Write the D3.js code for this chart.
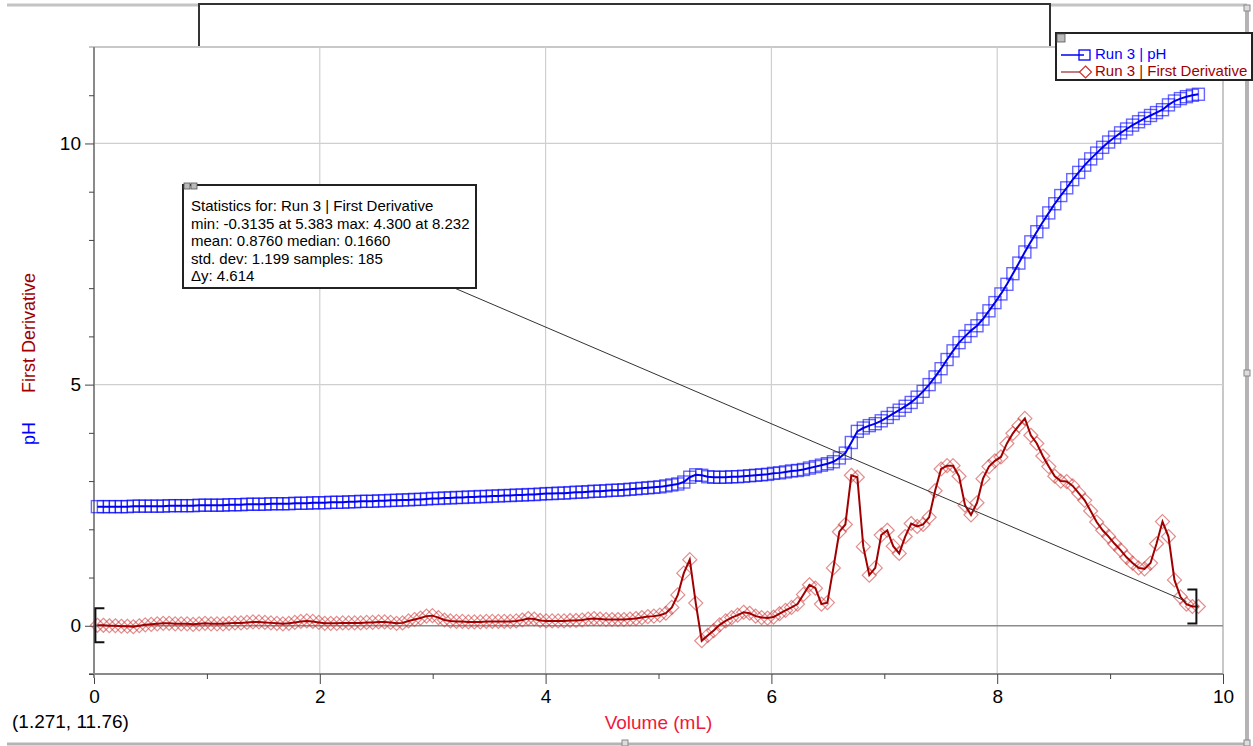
<!DOCTYPE html>
<html>
<head>
<meta charset="utf-8">
<script src="https://cdn.jsdelivr.net/npm/d3@7"></script>
<style>
	body { margin: 0; background: #fff; }
	svg { display: block; font-family: Arial, "Liberation Sans", sans-serif; }
</style>
</head>
<body>
<svg id="chart" width="1253" height="746"></svg>
<script>
// Run 3 titration data (Volume in mL)
const volume = [
	0.030, 0.083, 0.136, 0.189, 0.242, 0.295, 0.348, 0.401, 0.454, 0.507,
	0.560, 0.613, 0.666, 0.719, 0.772, 0.825, 0.878, 0.931, 0.984, 1.037,
	1.090, 1.143, 1.196, 1.249, 1.302, 1.355, 1.408, 1.461, 1.514, 1.567,
	1.620, 1.673, 1.726, 1.779, 1.832, 1.885, 1.938, 1.991, 2.044, 2.097,
	2.150, 2.203, 2.256, 2.309, 2.362, 2.415, 2.468, 2.521, 2.574, 2.627,
	2.680, 2.733, 2.786, 2.839, 2.892, 2.945, 2.998, 3.051, 3.104, 3.157,
	3.210, 3.263, 3.316, 3.369, 3.422, 3.475, 3.528, 3.581, 3.634, 3.687,
	3.740, 3.793, 3.846, 3.899, 3.952, 4.005, 4.058, 4.111, 4.164, 4.217,
	4.270, 4.323, 4.376, 4.429, 4.482, 4.535, 4.588, 4.641, 4.694, 4.747,
	4.800, 4.853, 4.906, 4.959, 5.012, 5.065, 5.118, 5.171, 5.224, 5.277,
	5.330, 5.383, 5.436, 5.489, 5.542, 5.595, 5.648, 5.701, 5.754, 5.807,
	5.860, 5.913, 5.966, 6.019, 6.072, 6.125, 6.178, 6.231, 6.284, 6.337,
	6.390, 6.443, 6.496, 6.549, 6.602, 6.655, 6.708, 6.761, 6.814, 6.867,
	6.920, 6.973, 7.026, 7.079, 7.132, 7.185, 7.238, 7.291, 7.344, 7.397,
	7.450, 7.503, 7.556, 7.609, 7.662, 7.715, 7.768, 7.821, 7.874, 7.927,
	7.980, 8.033, 8.086, 8.139, 8.192, 8.245, 8.298, 8.351, 8.404, 8.457,
	8.510, 8.563, 8.616, 8.669, 8.722, 8.775, 8.828, 8.881, 8.934, 8.987,
	9.040, 9.093, 9.146, 9.199, 9.252, 9.305, 9.358, 9.411, 9.464, 9.517,
	9.570, 9.623, 9.676, 9.729, 9.782
];

const pH = [
	2.47, 2.47, 2.47, 2.47, 2.47, 2.47, 2.48, 2.48, 2.48, 2.48,
	2.48, 2.48, 2.49, 2.49, 2.49, 2.49, 2.49, 2.50, 2.50, 2.50,
	2.50, 2.50, 2.51, 2.51, 2.51, 2.52, 2.52, 2.52, 2.52, 2.53,
	2.53, 2.53, 2.53, 2.54, 2.54, 2.54, 2.55, 2.55, 2.55, 2.56,
	2.56, 2.56, 2.57, 2.57, 2.58, 2.58, 2.58, 2.59, 2.59, 2.60,
	2.60, 2.61, 2.61, 2.62, 2.62, 2.63, 2.64, 2.64, 2.65, 2.65,
	2.66, 2.66, 2.67, 2.67, 2.68, 2.68, 2.69, 2.69, 2.70, 2.70,
	2.71, 2.71, 2.72, 2.72, 2.73, 2.74, 2.74, 2.75, 2.75, 2.76,
	2.77, 2.77, 2.78, 2.79, 2.79, 2.80, 2.81, 2.81, 2.82, 2.83,
	2.84, 2.85, 2.86, 2.87, 2.88, 2.90, 2.92, 2.94, 2.98, 3.08,
	3.13, 3.12, 3.09, 3.08, 3.08, 3.08, 3.09, 3.09, 3.10, 3.11,
	3.12, 3.13, 3.14, 3.16, 3.17, 3.19, 3.21, 3.22, 3.24, 3.27,
	3.30, 3.33, 3.36, 3.40, 3.48, 3.58, 3.80, 4.03, 4.10, 4.15,
	4.19, 4.25, 4.32, 4.40, 4.47, 4.55, 4.63, 4.74, 4.86, 5.00,
	5.16, 5.33, 5.52, 5.70, 5.87, 6.00, 6.12, 6.22, 6.36, 6.53,
	6.70, 6.88, 7.08, 7.30, 7.52, 7.75, 7.96, 8.17, 8.37, 8.56,
	8.75, 8.92, 9.08, 9.25, 9.40, 9.55, 9.68, 9.80, 9.92, 10.03,
	10.13, 10.22, 10.30, 10.38, 10.45, 10.52, 10.58, 10.64, 10.70, 10.80,
	10.88, 10.93, 10.97, 11.00, 11.02
];

const firstDerivative = [
	0.01, 0.01, 0.00, 0.00, -0.01, -0.01, -0.02, 0.00, 0.02, 0.03,
	0.04, 0.05, 0.05, 0.04, 0.04, 0.04, 0.03, 0.04, 0.05, 0.04,
	0.04, 0.04, 0.05, 0.06, 0.06, 0.07, 0.08, 0.08, 0.07, 0.06,
	0.05, 0.04, 0.05, 0.07, 0.09, 0.10, 0.09, 0.07, 0.05, 0.05,
	0.05, 0.06, 0.06, 0.06, 0.06, 0.07, 0.07, 0.08, 0.08, 0.07,
	0.05, 0.06, 0.10, 0.13, 0.16, 0.20, 0.21, 0.17, 0.12, 0.10,
	0.09, 0.09, 0.08, 0.08, 0.08, 0.09, 0.09, 0.09, 0.09, 0.09,
	0.10, 0.12, 0.15, 0.14, 0.11, 0.10, 0.10, 0.10, 0.10, 0.11,
	0.11, 0.12, 0.14, 0.15, 0.14, 0.13, 0.13, 0.13, 0.13, 0.14,
	0.15, 0.17, 0.19, 0.20, 0.22, 0.26, 0.38, 0.64, 1.09, 1.37,
	0.47, -0.31, -0.20, -0.10, 0.02, 0.10, 0.17, 0.22, 0.28, 0.26,
	0.20, 0.17, 0.16, 0.18, 0.25, 0.32, 0.38, 0.45, 0.65, 0.85,
	0.78, 0.45, 0.48, 1.20, 1.95, 2.10, 3.12, 3.08, 1.64, 1.05,
	1.20, 1.88, 1.98, 1.65, 1.50, 1.85, 2.12, 2.06, 2.10, 2.25,
	2.80, 3.25, 3.32, 3.32, 3.10, 2.50, 2.30, 2.55, 3.05, 3.30,
	3.42, 3.50, 3.78, 3.99, 4.15, 4.30, 3.95, 3.78, 3.52, 3.30,
	3.10, 3.00, 2.99, 2.90, 2.75, 2.60, 2.38, 2.15, 1.98, 1.85,
	1.70, 1.57, 1.42, 1.30, 1.20, 1.18, 1.30, 1.70, 2.16, 1.85,
	0.95, 0.60, 0.45, 0.40, 0.40
];

const xTicks = [0, 2, 4, 6, 8, 10];
const xMinorTicks = [1, 3, 5, 7, 9];
const yTicks = [0, 5, 10];
const yMinorTicks = [-1, 1, 2, 3, 4, 6, 7, 8, 9, 11];
const seriesNames = ["Run 3 | pH", "Run 3 | First Derivative"];
const statsLines = [
	"Statistics for: Run 3 | First Derivative",
	"min: -0.3135 at 5.383 max: 4.300 at 8.232",
	"mean: 0.8760 median: 0.1660",
	"std. dev: 1.199 samples: 185",
	"\u0394y: 4.614"
];
const cursorReadout = "(1.271, 11.76)";

const pLeft = 94, pRight = 1223, pTop = 47, pBottom = 674;

const svg = d3.select("#chart");

const xScale = d3.scaleLinear().domain([0, 10]).range([pLeft, pRight]);
const yScale = d3.scaleLinear().domain([-1, 12]).range([pBottom, pTop]);

const data = volume.map((v, i) => ({v: v, ph: pH[i], d: firstDerivative[i]}));

// window frame
svg.append("line").attr("x1", 7).attr("x2", 1247).attr("y1", 5).attr("y2", 5)
	.attr("stroke", "#c4c4c4").attr("stroke-width", 3);
svg.append("line").attr("x1", 1247).attr("x2", 1247).attr("y1", 5).attr("y2", 744)
	.attr("stroke", "#b4b4b4").attr("stroke-width", 4);
svg.append("line").attr("x1", 7).attr("x2", 1249).attr("y1", 744).attr("y2", 744)
	.attr("stroke", "#b4b4b4").attr("stroke-width", 3);
[[1247, 373], [625, 743], [1247, 743], [1247, 8]].forEach(p => {
	svg.append("rect").attr("x", p[0] - 3).attr("y", p[1] - 3).attr("width", 6).attr("height", 6)
		.attr("fill", "#ddd").attr("stroke", "#888");
});

// empty title box
svg.append("rect").attr("x", 199).attr("y", 4).attr("width", 851).attr("height", 43)
	.attr("fill", "#fff").attr("stroke", "#333").attr("stroke-width", 2);

// plot frame (top + right)
svg.append("line").attr("x1", 89).attr("x2", pRight).attr("y1", pTop).attr("y2", pTop)
	.attr("stroke", "#c8c8c8").attr("stroke-width", 2);
svg.append("line").attr("x1", pRight).attr("x2", pRight).attr("y1", pTop).attr("y2", pBottom)
	.attr("stroke", "#c8c8c8").attr("stroke-width", 2);

// grid
svg.append("g").selectAll("line").data(xTicks.filter(t => t > 0 && t < 10)).enter().append("line")
	.attr("x1", d => xScale(d)).attr("x2", d => xScale(d))
	.attr("y1", pTop).attr("y2", pBottom)
	.attr("stroke", "#cfcfcf").attr("stroke-width", 1.2);
svg.append("g").selectAll("line").data(yTicks.filter(t => t > 0)).enter().append("line")
	.attr("x1", pLeft).attr("x2", pRight)
	.attr("y1", d => yScale(d)).attr("y2", d => yScale(d))
	.attr("stroke", "#cfcfcf").attr("stroke-width", 1.2);
svg.append("line").attr("x1", pLeft).attr("x2", pRight)
	.attr("y1", yScale(0)).attr("y2", yScale(0))
	.attr("stroke", "#8c8c8c").attr("stroke-width", 1.5);

//X Axis
const xAxis = d3.axisBottom(xScale).tickValues(xTicks).tickSize(10).tickPadding(6).tickFormat(d3.format("d"));
const gx = svg.append("g").attr("transform", "translate(0," + pBottom + ")").call(xAxis);
const xMinor = d3.axisBottom(xScale).tickValues(xMinorTicks).tickSize(5).tickFormat("");
const gxm = svg.append("g").attr("transform", "translate(0," + pBottom + ")").call(xMinor);
gxm.select(".domain").remove();

//Y Axis
const yAxis = d3.axisLeft(yScale).tickValues(yTicks).tickSize(9).tickPadding(4).tickFormat(d3.format("d"));
const gy = svg.append("g").attr("transform", "translate(" + pLeft + ",0)").call(yAxis);
const yMinor = d3.axisLeft(yScale).tickValues(yMinorTicks).tickSize(5).tickFormat("");
const gym = svg.append("g").attr("transform", "translate(" + pLeft + ",0)").call(yMinor);
gym.select(".domain").remove();

[gx, gy].forEach(g => {
	g.select(".domain").attr("stroke", "#8a8a8a").attr("stroke-width", 2);
	g.selectAll("text").attr("fill", "#000").style("font-size", "19px").style("font-family", "Arial, 'Liberation Sans', sans-serif");
});
[gx, gy, gxm, gym].forEach(g => g.selectAll(".tick line").attr("stroke", "#444"));
gy.select(".domain").attr("d", "M0," + pTop + "V" + (pBottom + 4));
gx.select(".domain").attr("d", "M" + (pLeft - 5) + ",0H" + pRight);

// axis titles
svg.append("text")
	.attr("transform", "translate(35,445) rotate(-90)")
	.attr("fill", "#0000ff").style("font-size", "18px")
	.text("pH");
svg.append("text")
	.attr("transform", "translate(35,393) rotate(-90)")
	.attr("fill", "#a00000").style("font-size", "18px")
	.text("First Derivative");
svg.append("text")
	.attr("x", (pLeft + pRight) / 2).attr("y", 729)
	.attr("text-anchor", "middle")
	.attr("fill", "#f0183c").style("font-size", "19px")
	.text("Volume (mL)");
svg.append("text")
	.attr("x", 12).attr("y", 728)
	.attr("fill", "#000").style("font-size", "19px")
	.text(cursorReadout);

// pH series
svg.append("g").selectAll("rect").data(data).enter().append("rect")
	.attr("x", d => xScale(d.v) - 6).attr("y", d => yScale(d.ph) - 6)
	.attr("width", 12).attr("height", 12)
	.attr("fill", "none").attr("stroke", "#0000ff").attr("stroke-opacity", 0.6).attr("stroke-width", 1.4);
svg.append("path").datum(data)
	.attr("d", d3.line().x(d => xScale(d.v)).y(d => yScale(d.ph)))
	.attr("fill", "none").attr("stroke", "#0000f0").attr("stroke-width", 2);

// first derivative series
const diamond = (cx, cy, r) => "M" + cx + "," + (cy - r) + "L" + (cx + r) + "," + cy + "L" + cx + "," + (cy + r) + "L" + (cx - r) + "," + cy + "Z";
svg.append("g").selectAll("path").data(data).enter().append("path")
	.attr("d", d => diamond(xScale(d.v), yScale(d.d), 7))
	.attr("fill", "none").attr("stroke", "#cc3030").attr("stroke-opacity", 0.55).attr("stroke-width", 1.2);
svg.append("path").datum(data)
	.attr("d", d3.line().x(d => xScale(d.v)).y(d => yScale(d.d)))
	.attr("fill", "none").attr("stroke", "#a00000").attr("stroke-width", 2);

// statistics brackets
const first = data[0], last = data[data.length - 1];
const bx0 = xScale(first.v) - 2, by0 = yScale(first.d);
svg.append("path")
	.attr("d", "M" + (bx0 + 9) + "," + (by0 - 17) + "H" + bx0 + "V" + (by0 + 17) + "H" + (bx0 + 9))
	.attr("fill", "none").attr("stroke", "#111").attr("stroke-width", 2);
const bx1 = xScale(last.v) - 2, by1 = yScale(last.d);
svg.append("path")
	.attr("d", "M" + (bx1 - 9) + "," + (by1 - 17) + "H" + bx1 + "V" + (by1 + 17) + "H" + (bx1 - 9))
	.attr("fill", "none").attr("stroke", "#111").attr("stroke-width", 2);

// statistics box + leader line
svg.append("line")
	.attr("x1", 452).attr("y1", 287)
	.attr("x2", bx1 - 10).attr("y2", by1 - 5)
	.attr("stroke", "#333").attr("stroke-width", 1);
svg.append("rect").attr("x", 183).attr("y", 185).attr("width", 293).attr("height", 103)
	.attr("fill", "#fff").attr("stroke", "#222").attr("stroke-width", 2);
[184, 191].forEach(x => {
	svg.append("rect").attr("x", x).attr("y", 183).attr("width", 6).attr("height", 6)
		.attr("fill", "#bbb").attr("stroke", "#555").attr("stroke-width", 0.8);
});
svg.append("g").selectAll("text").data(statsLines).enter().append("text")
	.attr("x", 191).attr("y", (d, i) => 211 + i * 17.5)
	.attr("fill", "#000").style("font-size", "15px")
	.text(d => d);

// legend
const legend = svg.append("g");
legend.append("rect").attr("x", 1056).attr("y", 33).attr("width", 196).attr("height", 47)
	.attr("fill", "#fff").attr("stroke", "#222").attr("stroke-width", 2);
legend.append("rect").attr("x", 1057).attr("y", 34).attr("width", 8).attr("height", 8)
	.attr("fill", "#bbb").attr("stroke", "#555").attr("stroke-width", 0.8);
legend.append("line").attr("x1", 1061).attr("x2", 1084).attr("y1", 55).attr("y2", 55)
	.attr("stroke", "#0000f0").attr("stroke-width", 1.5);
legend.append("rect").attr("x", 1079).attr("y", 50).attr("width", 11).attr("height", 10)
	.attr("fill", "none").attr("stroke", "#0000ff").attr("stroke-width", 1.3);
legend.append("line").attr("x1", 1061).attr("x2", 1080).attr("y1", 72).attr("y2", 72)
	.attr("stroke", "#b05050").attr("stroke-width", 1.5);
legend.append("path").attr("d", diamond(1085.5, 72, 6))
	.attr("fill", "none").attr("stroke", "#cc3030").attr("stroke-width", 1.2);
legend.selectAll("text.lab").data(seriesNames).enter().append("text")
	.attr("class", "lab")
	.attr("x", 1095).attr("y", (d, i) => 59 + i * 17)
	.attr("fill", (d, i) => i === 0 ? "#0000ff" : "#a00000")
	.style("font-size", "15px")
	.text(d => d);
</script>
</body>
</html>
